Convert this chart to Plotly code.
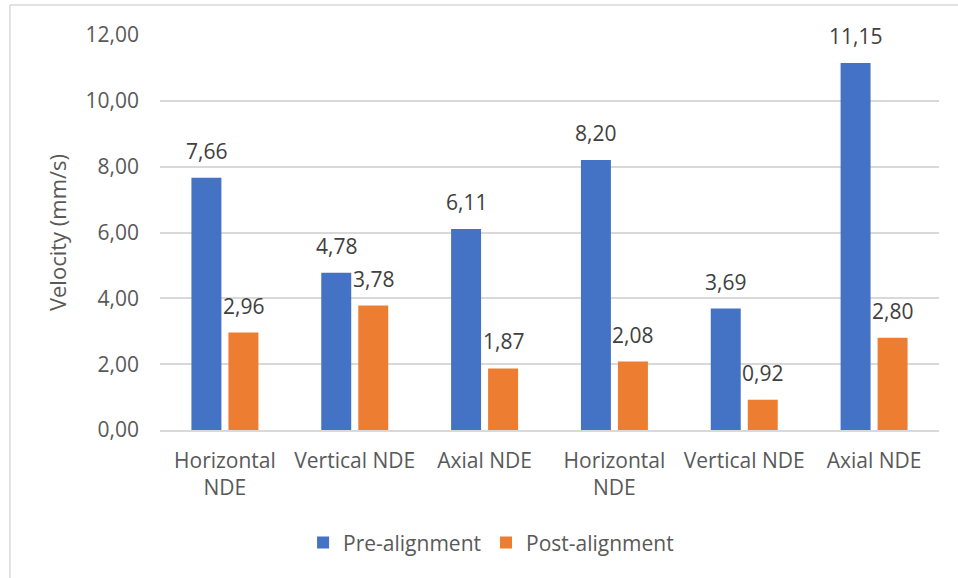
import plotly.graph_objects as go

# Measurement points (two machines, three directions each)
categories = ["Horizontal<br>NDE", "Vertical NDE", "Axial NDE",
              "Horizontal<br>NDE", "Vertical NDE", "Axial NDE"]
pre_alignment = [7.66, 4.78, 6.11, 8.20, 3.69, 11.15]
post_alignment = [2.96, 3.78, 1.87, 2.08, 0.92, 2.80]
y_ticks = [0, 2, 4, 6, 8, 10, 12]

positions = list(range(len(categories)))
font_family = "Open Sans, Segoe UI, Calibri, sans-serif"
label_font = dict(family=font_family, size=21, color="#404040")

BARGAP = 0.43
SLOT_PX = 37  # horizontal distance between the two bar centres in a group

fig = go.Figure()
fig.add_trace(go.Bar(
    x=positions, y=pre_alignment, name="Pre-alignment",
    marker=dict(color="#4472C4", line=dict(width=0)),
))
fig.add_trace(go.Bar(
    x=positions, y=post_alignment, name="Post-alignment",
    marker=dict(color="#ED7D31", line=dict(width=0)),
))

# value labels above each bar
annotations = []
for series, shift in ((pre_alignment, -SLOT_PX / 2), (post_alignment, SLOT_PX / 2)):
    for pos, val in zip(positions, series):
        annotations.append(dict(
            x=pos, y=val, xref="x", yref="y",
            text=f"{val:.2f}".replace(".", ","),
            showarrow=False, xanchor="center", yanchor="bottom",
            xshift=shift, yshift=11, font=label_font,
        ))

fig.update_layout(
    width=958, height=578,
    margin=dict(l=160, r=19, t=35, b=148),
    paper_bgcolor="white", plot_bgcolor="white",
    separators=",.",
    barmode="group", bargap=BARGAP, bargroupgap=0.19,
    font=dict(family=font_family, size=21, color="#595959"),
    legend=dict(orientation="h", x=0.425, xanchor="center",
                y=-0.286, yanchor="middle",
                font=dict(size=21, color="#595959"),
                itemwidth=30, tracegroupgap=0),
    showlegend=True,
    annotations=annotations,
    shapes=[
        # light frame around the chart area
        dict(type="line", xref="paper", yref="paper",
             x0=-0.1926, x1=1.5, y0=1.076, y1=1.076,
             line=dict(color="#d9d9d9", width=1.5)),
        dict(type="line", xref="paper", yref="paper",
             x0=-0.1926, x1=-0.1926, y0=1.076, y1=-0.5,
             line=dict(color="#d9d9d9", width=1.5)),
    ],
)

fig.update_xaxes(
    tickmode="array", tickvals=positions, ticktext=categories,
    range=[-0.5, len(categories) - 0.5],
    showgrid=False, showline=True, linecolor="#d9d9d9", linewidth=1.5,
    ticks="", ticklabelstandoff=11,
    tickfont=dict(size=21, color="#595959"),
)
fig.update_yaxes(
    range=[0, 12], tickmode="array", tickvals=y_ticks, tickformat=".2f",
    showgrid=True, gridcolor="#d9d9d9", gridwidth=1.5,
    zeroline=False, showline=False, ticks="", ticklabelstandoff=20,
    tickfont=dict(size=21, color="#595959"),
    title=dict(text="Velocity (mm/s)", standoff=12,
               font=dict(size=22, color="#595959")),
)

fig.write_html("out.html")
